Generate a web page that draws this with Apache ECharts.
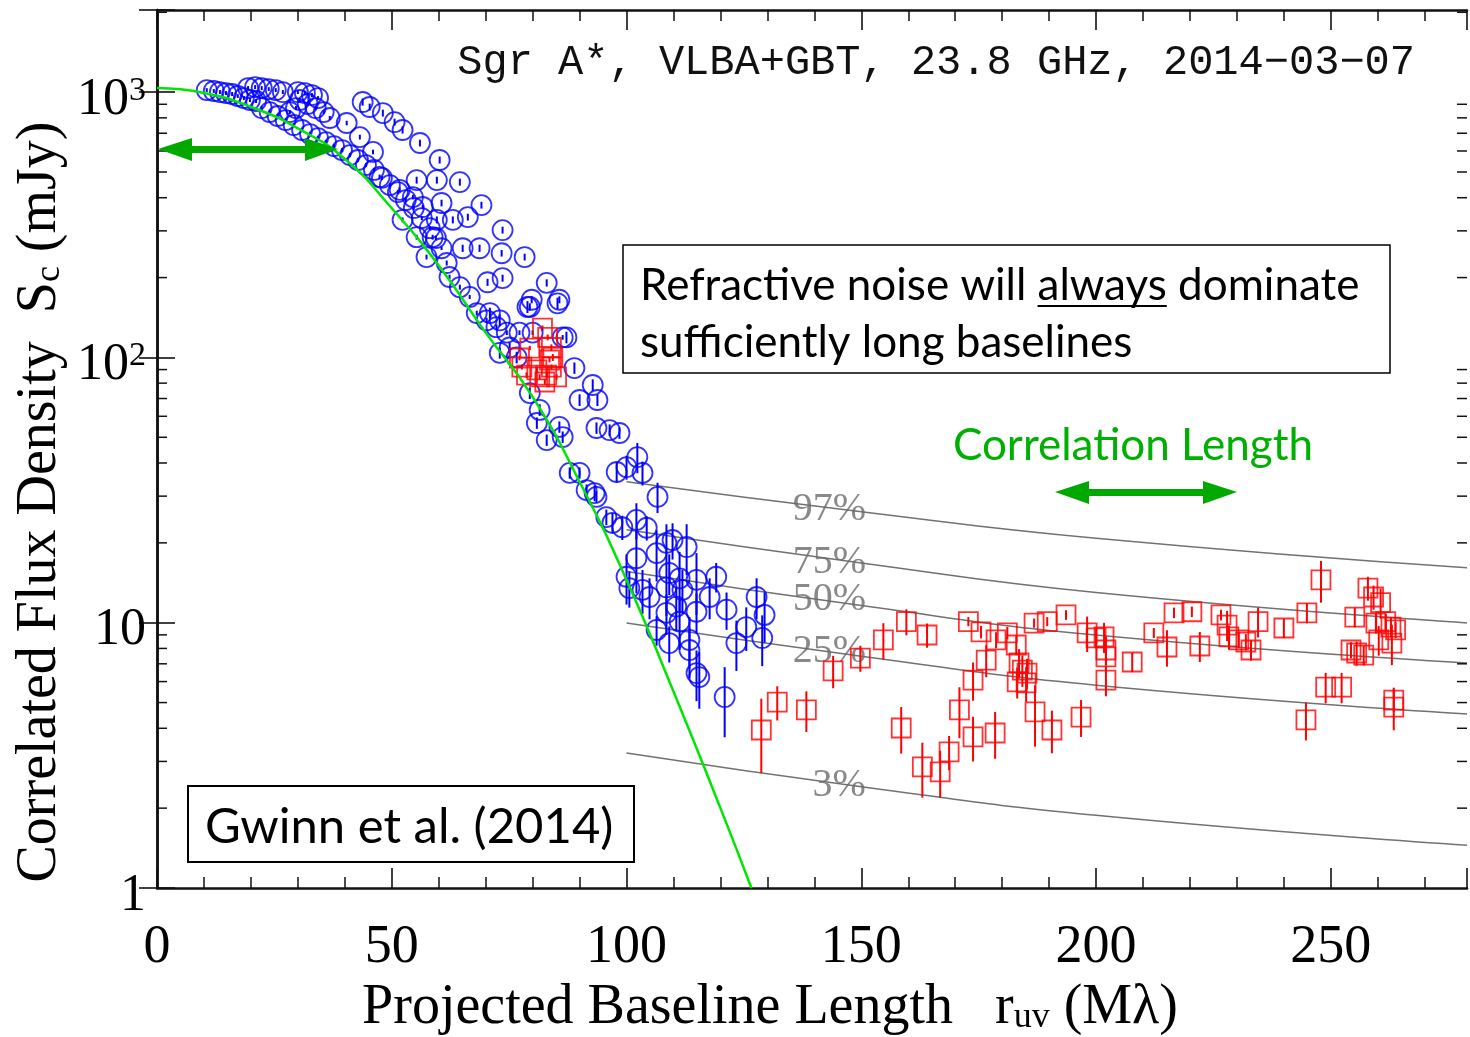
<!DOCTYPE html>
<html>
<head>
<meta charset="utf-8">
<script src="https://cdn.jsdelivr.net/npm/echarts@6/dist/echarts.min.js"></script>
<style>
  html, body { margin: 0; padding: 0; background: #fff; }
  #main { width: 1470px; height: 1037px; }
</style>
</head>
<body>
<div id="main"></div>
<script>
// baseline length (M lambda), correlated flux (mJy), error (mJy)
var blueUpper = [
  [10.6,1018,17],[12.1,1010,17],[13.4,1001,17],[14.7,992,17],[16.0,984,17],[17.2,967,16],[18.5,950,16],
  [19.8,934,16],[21.1,926,16],[19.4,1036,18],[20.9,1045,18],[22.3,1036,18],[23.8,1027,17],[25.3,1018,17],
  [26.8,1001,17],[30.0,1001,17],[31.5,992,17],[33.0,975,17],[34.3,950,16],[30.4,934,16],[32.1,902,15],
  [33.8,871,15],[35.5,841,14],[36.8,799,14],[29.6,871,15],[28.3,841,14],[22.3,871,15],[24.0,841,14],
  [25.7,813,14],[27.4,785,13],[29.1,752,13],[30.9,720,12],[32.6,695,12],[34.3,671,11],[36.0,648,11],
  [37.7,626,11],[39.4,605,10],[41.1,579,10],[42.8,555,9],[44.5,531,9],[46.2,509,9],[47.9,475,8],
  [49.6,446,8],[51.3,420,7],[53.0,392,7],[54.7,366,6],[56.4,335,6],[58.1,307,5],[59.4,282,5],[60.6,258,4],
  [43.8,918,28],[45.3,879,26],[48.1,834,25],[50.6,771,23],[52.3,720,22],[56.0,643,19],[60.2,555,17],
  [55.3,466,14],[59.6,466,14],[64.5,458,14],[60.6,382,11],[69.1,375,11],[59.6,330,10],[63.0,330,10],
  [66.2,338,10],[73.6,302,9],[65.1,258,8],[68.7,258,8],[73.4,247,7],[78.3,239,7],[70.4,192,6],
  [73.6,199,6],[79.8,165,5],[83.0,191,6],[85.7,165,5],[79.4,155,5],
  [40.4,765,15],[43.2,677,14],[46.0,595,12],[47.4,479,10],[51.7,428,9],[54.5,402,8],[56.6,369,7],
  [52.3,330,7],[55.3,284,6],[58.7,284,6],[57.4,239,5],[61.7,227,5],[62.3,201,4],[64.5,184,4],
  [66.6,169,3],[68.1,147,3],[70.2,138,3],[72.3,130,3],[74.5,124,2.5],[77.2,124,2.5],[80.0,124,2.5],
  [86.4,119,2.4],
  [70.9,147,7],[73.0,138,7],[78.9,155,8],[85.3,160,8],[87.2,119,6],[75.1,109,5],[76.6,100,5],
  [73.0,104,5],[88.9,91.2,4.5],[92.8,78.7,4],[90.0,69.1,3.5],[93.8,69.1,3.5],[79.4,73.4,3.7],
  [81.5,63.4,3.2],[80.9,56.6,2.8],[85.7,54.7,2.7],[83.0,48.8,2.4],[86.4,50.1,2.5],[93.6,54.2,2.7],
  [96.4,53.2,2.7],[98.5,51.9,2.6],[87.9,36.7,1.8],[90.0,36.7,1.8],[91.5,31.6,1.6],[93.6,29.8,1.5]
];

var blueLower = [
  [97.9,37.0,3.2],[100.0,38.6,4.0],[102.3,42.1,5.5],[103.4,36.7,3.8],[106.6,29.8,3.9],[93.2,30.8,2.1],
  [95.7,25.0,1.7],[97.0,23.8,2.1],[99.1,22.9,2.4],[102.1,24.4,3.8],[104.3,22.8,2.4],[102.1,17.5,4.6],
  [106.4,18.3,4.0],[108.5,20.0,3.5],[109.8,20.5,3.2],[112.8,19.3,4.2],[100.0,14.9,3.2],[100.6,13.5,2.1],
  [103.4,13.3,2.5],[104.9,12.5,2.2],[108.5,13.6,3.0],[109.1,15.4,2.7],[111.3,14.7,3.8],[111.9,13.3,2.5],
  [114.9,14.5,3.8],[119.1,14.9,1.9],[117.7,12.5,2.2],[114.9,11.0,1.9],[110.6,11.5,2.2],[108.5,10.9,1.9],
  [111.3,10.1,2.2],[121.3,11.2,1.8],[106.4,9.39,1.2],[109.1,8.38,1.3],[113.4,8.61,1.9],[113.4,7.89,1.7],
  [125.5,9.63,1.8],[123.4,8.38,1.8],[127.7,12.5,2.2],[129.4,10.7,2.3],[128.9,8.76,1.9],[114.9,6.46,1.4],
  [115.5,6.24,1.5],[120.9,5.25,1.55]
];

var redPoints = [
  [82.1,129,3],[83.2,119,3],[84.0,109,3],[84.3,100,3],[84.0,92,2],[83.0,85.8,2],[81.5,84.4,2],
  [80.9,89.7,2],[77.2,99.5,2],[77.7,92,2],[78.7,85.8,2],[85.1,84.4,2],[82.6,80.8,2],[83.6,97.8,2],
  [79.4,108.5,2],
  [128.7,3.94,1.23],[132.1,5.02,0.74],[138.3,4.69,0.82],[144.0,6.58,0.92],[149.8,7.36,0.83],
  [154.7,8.61,1.35],[159.6,10.1,1.14],[164.0,8.99,0.94],[158.5,4.01,0.80],[163.0,2.86,0.67],
  [166.8,2.74,0.55],[168.7,3.26,0.48],[170.9,4.69,1.02],[173.8,6.08,1.0],[173.8,3.71,0.71],
  [178.5,3.84,0.77],[176.6,7.23,1.0],[172.8,10.1,0.4],[175.5,9.23,0.5],[178.7,8.61,0.6],
  [181.1,9.15,0.5],[183.0,8.24,0.7],[183.6,7.05,0.9],[184.3,6.63,0.9],[185.3,6.46,0.85],
  [183.2,5.98,0.8],[185.1,5.93,0.9],[187.0,4.61,1.2],[190.6,3.94,0.72],[186.8,9.97,0.4],
  [189.6,10.1,0.4],[193.6,10.7,0.45],[196.8,4.41,0.7],[198.1,9.15,1.4],[200.0,8.76,0.75],
  [201.7,8.84,1.15],[202.1,7.89,1.0],[202.1,7.43,0.5],[202.1,6.08,0.8],[207.7,7.11,0.6],
  [212.3,9.15,0.4],[215.1,8.10,1.27],[216.6,10.9,0.5],[220.4,11.0,0.5],[222.1,8.17,1.06],
  [226.6,10.7,0.5],[227.9,9.80,1.28],[228.3,8.84,0.92],[230.4,8.61,0.6],[231.9,8.46,0.6],
  [233.0,7.89,0.7],[234.5,10.1,1.3],[240.0,9.55,0.8],[244.9,10.9,0.95],[247.9,14.5,2.6],
  [244.7,4.30,0.7],[248.9,5.72,0.75],[252.3,5.72,0.75],[254.3,7.89,0.55],[255.5,7.69,0.8],
  [257.0,7.55,0.65],[255.1,10.5,0.9],[257.9,13.5,1.4],[259.1,12.5,1.3],[260.6,11.9,1.55],
  [259.6,9.97,0.87],[261.7,10.1,0.7],[262.8,9.63,0.84],[263.8,9.39,0.65],[260.2,8.61,1.1],
  [263.0,8.38,1.46],[263.4,4.81,0.88],[263.4,5.11,0.5]
];

// gaussian source model (green)
var modelX = [0, 10, 20, 30, 40, 50, 60, 70, 80, 90, 100, 110, 120, 126.6];
var modelY = [1036, 993, 880, 730, 560, 365, 222, 124, 71, 34, 14.5, 5.5, 2.0, 1.0];

// refractive noise percentile curves
var pctX = [100, 150, 200, 279];
var p97 = [34.0, 26.2, 20.8, 16.1];
var p75 = [22.4, 16.8, 13.0, 9.98];
var p50 = [15.6, 11.6, 8.99, 7.05];
var p25 = [9.97, 7.48, 5.81, 4.53];
var p03 = [3.23, 2.41, 1.88, 1.45];
var pctLabels = [[143.2, 26.6, '97%'], [143.2, 16.9, '75%'], [143.2, 12.2, '50%'], [143.2, 7.76, '25%'], [145.3, 2.44, '3%']];

var xMax = 279, yMin = 1, yMax = 2040;
var xTickLabels = ['0', '50', '100', '150', '200', '250'];
var yTickValues = [1, 10, 100, 1000];
var yTickText = ['1', '10', '10{sup|2}', '10{sup|3}'];
var yMinorTicks = [2,3,4,5,6,7,8,9,20,30,40,50,60,70,80,90,200,300,400,500,600,700,800,900,2000];

var serif = 'Liberation Serif';
var sans = 'Lato';

function errData(arr) {
  return arr.map(function (p) { return [p[0], p[1] - p[2], p[1] + p[2]]; });
}
function errSeries(arr, color) {
  return {
    type: 'custom', silent: true, z: 3,
    data: errData(arr),
    encode: { x: 0, y: [1, 2] },
    renderItem: function (params, api) {
      var lo = api.coord([api.value(0), api.value(1)]);
      var hi = api.coord([api.value(0), api.value(2)]);
      return { type: 'line', shape: { x1: lo[0], y1: lo[1], x2: hi[0], y2: hi[1] },
               style: { stroke: color, lineWidth: 2 } };
    }
  };
}
function pctSeries(vals) {
  return {
    type: 'line', smooth: true, symbol: 'none', silent: true, z: 1,
    data: pctX.map(function (x, i) { return [x, vals[i]]; }),
    lineStyle: { color: '#727272', width: 1.5 }
  };
}

var chart = echarts.init(document.getElementById('main'));

// width of text for underline
var cv = document.createElement('canvas').getContext('2d');
cv.font = '44px ' + sans;
var wPre = cv.measureText('Refractive noise will ').width;
var wAlw = cv.measureText('always').width;

var axisLineStyle = { color: '#111', width: 2.5 };

chart.setOption({
  animation: false,
  grid: { left: 157, right: 2, top: 10, bottom: 149 },
  xAxis: [{
    type: 'value', min: 0, max: xMax, interval: 50, position: 'bottom',
    axisLine: { lineStyle: axisLineStyle },
    axisTick: { inside: true, length: 20, lineStyle: { color: '#111', width: 1.6 } },
    minorTick: { show: true, splitNumber: 5, length: 11, lineStyle: { color: '#111', width: 1.5 } },
    splitLine: { show: false },
    axisLabel: {
      margin: 33, fontFamily: serif, fontSize: 54, color: '#000',
      formatter: function (v) { return v % 50 === 0 ? xTickLabels[v / 50] : ''; }
    }
  }, {
    type: 'value', min: 0, max: xMax, interval: 50, position: 'top',
    axisLine: { lineStyle: axisLineStyle },
    axisTick: { inside: true, length: 20, lineStyle: { color: '#111', width: 1.6 } },
    minorTick: { show: true, splitNumber: 5, length: 11, lineStyle: { color: '#111', width: 1.5 } },
    splitLine: { show: false },
    axisLabel: { show: false }
  }],
  yAxis: [{
    type: 'log', logBase: 10, min: yMin, max: yMax, position: 'left',
    axisLine: { lineStyle: axisLineStyle },
    axisTick: { inside: true, length: 18, lineStyle: { color: '#111', width: 1.6 } },
    splitLine: { show: false },
    axisLabel: {
      margin: 11, fontFamily: serif, fontSize: 52, color: '#000', padding: [16, 0, 0, 0],
      formatter: function (v) {
        var i = yTickValues.indexOf(Math.round(v));
        return (i >= 0 && Math.abs(v - yTickValues[i]) < 1e-6 * v) ? yTickText[i] : '';
      },
      rich: { sup: { fontFamily: serif, fontSize: 34, verticalAlign: 'top', color: '#000' } }
    }
  }, {
    type: 'log', logBase: 10, min: yMin, max: yMax, position: 'right',
    axisLine: { lineStyle: axisLineStyle },
    axisTick: { inside: true, length: 18, lineStyle: { color: '#111', width: 1.6 } },
    splitLine: { show: false },
    axisLabel: { show: false }
  }],
  series: [
    {
      type: 'custom', silent: true, clip: false,
      data: yMinorTicks.map(function (v) { return [0, v]; }),
      encode: { x: 0, y: 1 },
      renderItem: function (params, api) {
        var l = api.coord([0, api.value(1)]);
        var r = api.coord([xMax, api.value(1)]);
        return { type: 'group', children: [
          { type: 'line', shape: { x1: l[0], y1: l[1], x2: l[0] + 10, y2: l[1] }, style: { stroke: '#111', lineWidth: 1.5 } },
          { type: 'line', shape: { x1: r[0], y1: r[1], x2: r[0] - 10, y2: r[1] }, style: { stroke: '#111', lineWidth: 1.5 } }
        ] };
      }
    },
    pctSeries(p97), pctSeries(p75), pctSeries(p50), pctSeries(p25), pctSeries(p03),
    {
      type: 'scatter', silent: true, symbolSize: 0, z: 2,
      data: pctLabels,
      label: {
        show: true, position: 'inside', formatter: function (p) { return p.data[2]; },
        fontFamily: serif, fontSize: 40, color: '#6c6c6c'
      }
    },
    errSeries(blueUpper.concat(blueLower), '#0000ff'),
    {
      type: 'scatter', symbol: 'circle', symbolSize: 20, z: 4,
      data: blueUpper.concat(blueLower).map(function (p) { return [p[0], p[1]]; }),
      itemStyle: { color: 'rgba(0,0,0,0)', borderColor: '#0000ff', borderWidth: 1.8 }
    },
    errSeries(redPoints, '#ff0000'),
    {
      type: 'scatter', symbol: 'rect', symbolSize: 19, z: 5,
      data: redPoints.map(function (p) { return [p[0], p[1]]; }),
      itemStyle: { color: 'rgba(0,0,0,0)', borderColor: '#ff0000', borderWidth: 1.8 }
    },
    {
      type: 'line', smooth: true, symbol: 'none', z: 6, silent: true,
      data: modelX.map(function (x, i) { return [x, modelY[i]]; }),
      lineStyle: { color: '#00e600', width: 2.5 }
    }
  ],
  graphic: [
    { type: 'text', x: 1415, y: 63, z: 20,
      style: { text: 'Sgr A*, VLBA+GBT, 23.8 GHz, 2014\u221203\u221207', font: '42px "Liberation Mono"',
               fill: '#111', align: 'right', verticalAlign: 'middle' } },
    { type: 'rect', z: 20, shape: { x: 623, y: 245, width: 767, height: 128 },
      style: { fill: '#fff', stroke: '#000', lineWidth: 1.5 } },
    { type: 'text', x: 640, y: 286, z: 21,
      style: { text: 'Refractive noise will always dominate', font: '44px ' + sans, fill: '#000', verticalAlign: 'middle' } },
    { type: 'text', x: 640, y: 343, z: 21,
      style: { text: 'sufficiently long baselines', font: '44px ' + sans, fill: '#000', verticalAlign: 'middle' } },
    { type: 'line', z: 21, shape: { x1: 640 + wPre, y1: 306, x2: 640 + wPre + wAlw, y2: 306 },
      style: { stroke: '#000', lineWidth: 2 } },
    { type: 'rect', z: 20, shape: { x: 188, y: 786, width: 446, height: 76 },
      style: { fill: '#fff', stroke: '#000', lineWidth: 2 } },
    { type: 'text', x: 205, y: 827, z: 21,
      style: { text: 'Gwinn et al. (2014)', font: '49px ' + sans, fill: '#000', verticalAlign: 'middle' } },
    { type: 'text', x: 1133, y: 446, z: 21,
      style: { text: 'Correlation Length', font: '44px ' + sans, fill: '#00b000', align: 'center', verticalAlign: 'middle' } },
    // correlation length arrow
    { type: 'rect', z: 21, shape: { x: 1085, y: 489, width: 122, height: 7 }, style: { fill: '#00a800' } },
    { type: 'polygon', z: 21, shape: { points: [[1055, 492], [1089, 481], [1089, 504]] }, style: { fill: '#00a800' } },
    { type: 'polygon', z: 21, shape: { points: [[1237, 492], [1203, 481], [1203, 504]] }, style: { fill: '#00a800' } },
    // source size arrow
    { type: 'rect', z: 21, shape: { x: 188, y: 146, width: 122, height: 7 }, style: { fill: '#00a800' } },
    { type: 'polygon', z: 21, shape: { points: [[158, 149], [192, 138], [192, 161]] }, style: { fill: '#00a800' } },
    { type: 'polygon', z: 21, shape: { points: [[338, 149], [305, 138], [305, 161]] }, style: { fill: '#00a800' } },
    // axis titles
    { type: 'text', x: 40, y: 502, rotation: Math.PI / 2, z: 21,
      style: { text: 'Correlated Flux Density  S{sub|c} (mJy)', font: '56px "' + serif + '"', fill: '#000',
               align: 'center', verticalAlign: 'middle',
               rich: { sub: { fontFamily: serif, fontSize: 36, verticalAlign: 'bottom', fill: '#000' } } } },
    { type: 'text', x: 770, y: 1008, z: 21,
      style: { text: 'Projected Baseline Length   r{sub|uv} (M\u03bb)', font: '56px "' + serif + '"', fill: '#000',
               align: 'center', verticalAlign: 'middle',
               rich: { sub: { fontFamily: serif, fontSize: 36, verticalAlign: 'bottom', fill: '#000' } } } }
  ]
});
</script>
</body>
</html>
